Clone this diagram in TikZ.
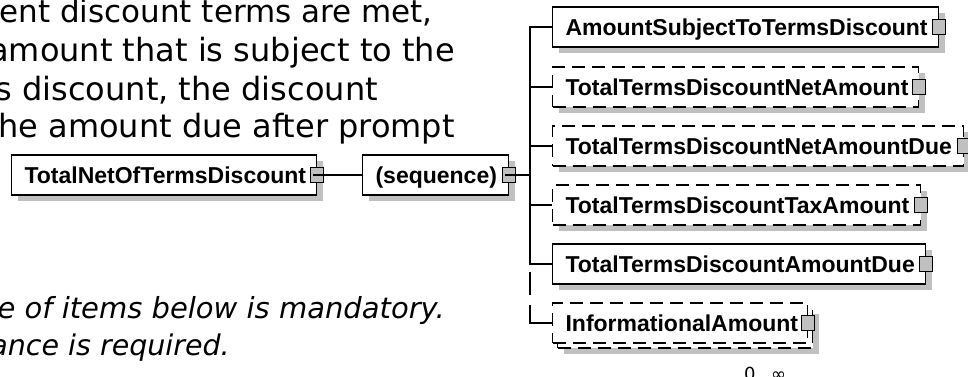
\documentclass[tikz,border=0pt]{standalone}
\usepackage{fontspec}
\newfontfamily\descfont{DejaVu Sans}
\newfontfamily\boxfont{Liberation Sans}
\usetikzlibrary{shadows}
\definecolor{shgrey}{RGB}{192,192,192}
\definecolor{sqgrey}{RGB}{192,192,192}
\begin{document}
\begin{tikzpicture}[x=1pt,y=-1pt,
  elbox/.style={draw=black, fill=white, line width=1.1pt, minimum height=40pt,
    inner xsep=13pt, inner ysep=0pt, anchor=west, text height=16.5pt, text depth=0pt,
    font=\boxfont\bfseries\fontsize{23}{23}\selectfont},
  shd/.style={drop shadow={opacity=1, fill=shgrey, shadow xshift=6pt, shadow yshift=-6pt}},
  optdash/.style={dash pattern=on 13pt off 7pt},
  sq/.style={draw=black, fill=sqgrey, line width=0.9pt, minimum width=13pt, minimum height=15pt, inner sep=0pt},
  desc/.style={font=\descfont\fontsize{32}{32}\selectfont, inner sep=0pt, anchor=base east},
  note/.style={font=\descfont\itshape\fontsize{29}{29}\selectfont, inner sep=0pt, anchor=base east},
  conn/.style={line width=1.1pt, draw=black}]
\useasboundingbox (0,0) rectangle (968,376);
\clip (0,0) rectangle (968,376);
\fill[white] (0,0) rectangle (968,376);

% description text (clipped at left, as in the reference)
\node[desc, font=\descfont\fontsize{31}{31}\selectfont] (d1) at (433,22) {ent discount terms are met,};
\node[desc] (d2) at (455,61) {amount that is subject to the};
\node[desc] (d3) at (378,100) {s discount, the discount};
\node[desc] (d4) at (455,137) {he amount due after prompt};
\node[note] (n1) at (445,318) {e of items below is mandatory.};
\node[note, font=\descfont\itshape\fontsize{28.5}{28.5}\selectfont] (n2) at (230,355) {ance is required.};

% main element and sequence
\node[elbox, shd, minimum width=305pt] (tot) at (11,175) {\makebox[279pt][l]{TotalNetOfTermsDiscount}};
\node[sq] (sqt) at (tot.east) {};
\node[elbox, shd, minimum width=146pt] (seq) at (362,175) {\makebox[120pt][l]{(sequence)}};
\node[sq] (sqs) at (seq.east) {};
\draw[conn] ([xshift=2.5pt]sqt.west) -- (seq.west);
\draw[conn] ([xshift=2.5pt]sqs.west) -- (sqs.east);
\coordinate (trunk) at (530,175);
\draw[conn] (sqs.east) -- (trunk);

% children
\node[elbox, shd, minimum width=386pt] (b1) at (552,27) {\makebox[360pt][l]{AmountSubjectToTermsDiscount}};
\node[sq] (s1) at (b1.east) {};
\node[elbox, shd, optdash, minimum width=366pt] (b2) at (552,87) {\makebox[340pt][l]{TotalTermsDiscountNetAmount}};
\node[sq] (s2) at (b2.east) {};
\node[elbox, shd, optdash, minimum width=411pt] (b3) at (552,146) {\makebox[385pt][l]{TotalTermsDiscountNetAmountDue}};
\node[sq] (s3) at (b3.east) {};
\node[elbox, shd, optdash, minimum width=368pt] (b4) at (552,205) {\makebox[342pt][l]{TotalTermsDiscountTaxAmount}};
\node[sq] (s4) at (b4.east) {};
\node[elbox, shd, minimum width=373pt] (b5) at (552,264) {\makebox[347pt][l]{TotalTermsDiscountAmountDue}};
\node[sq] (s5) at (b5.east) {};
\node[elbox, shd, optdash, minimum width=255pt] (b6back) at (557,328) {};
\node[elbox, optdash, minimum width=255pt] (b6) at (552,323) {\makebox[229pt][l]{InformationalAmount}};
\node[sq] (s6) at (b6.east) {};
\node[font=\descfont\fontsize{18}{18}\selectfont, inner sep=0pt, anchor=base west] (occ) at (744,380) {0.\kern2pt.\kern2pt∞};

% tree connectors
\draw[conn] (b1.west) -- (b1.west -| trunk) -- (b5.west -| trunk) -- (b5.west);
\draw[conn] (b2.west) -- (b2.west -| trunk);
\draw[conn] (b3.west) -- (b3.west -| trunk);
\draw[conn] (b4.west) -- (b4.west -| trunk);
\draw[conn, dash pattern=on 40pt off 10pt on 23pt off 7pt] (b6.west) -- (b6.west -| trunk) -- (b5.west -| trunk);
\end{tikzpicture}
\end{document}
